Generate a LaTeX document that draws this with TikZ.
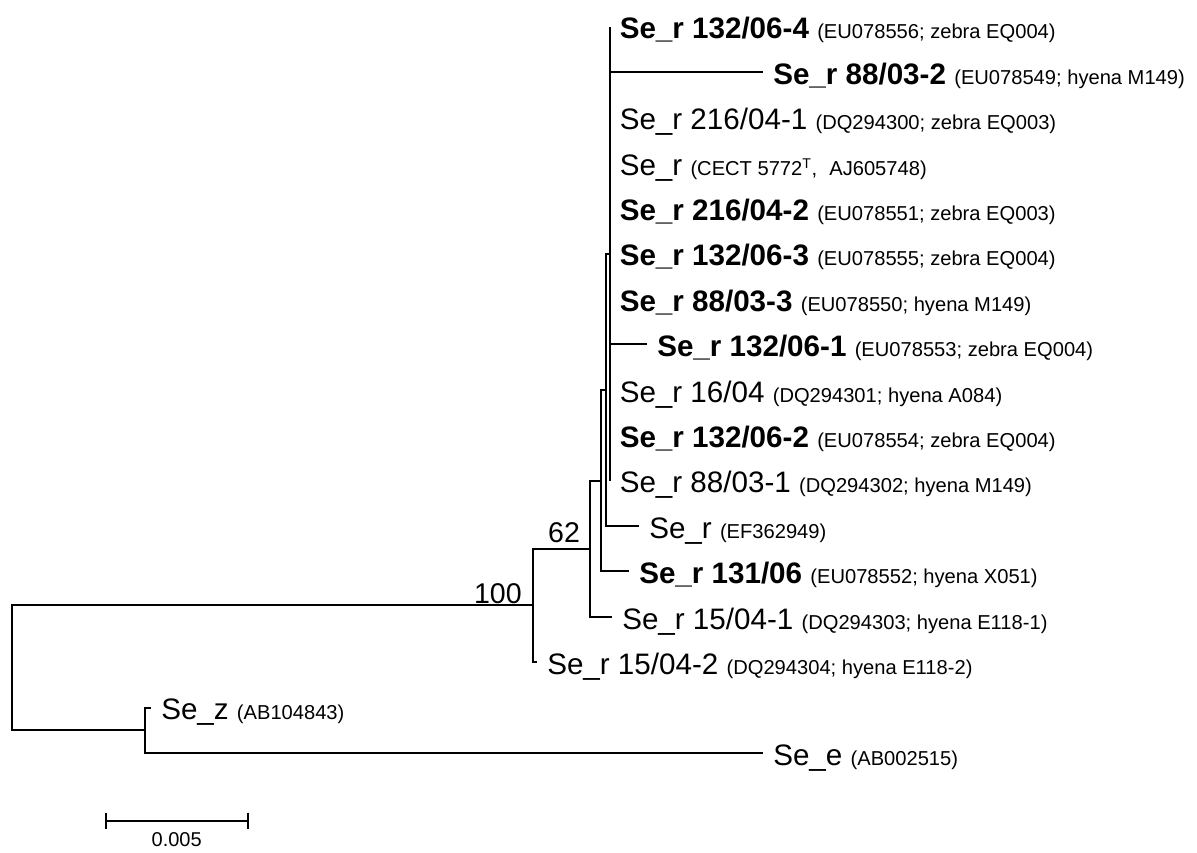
\documentclass[tikz,border=0pt]{standalone}
\usepackage{fontspec}
\setmainfont{Liberation Sans}
\usepackage{tikz}
\usetikzlibrary{positioning,calc}
\newcommand\accno[1]{{\fontsize{15.1}{17}\selectfont\mdseries #1}}
\tikzset{
  br/.style     = {draw=black, line width=1.5pt},
  leaf/.style   = {anchor=base west, inner sep=0pt, xshift=7.5pt, yshift=-9.2pt, font=\fontsize{22.2}{24}\selectfont},
  boot/.style   = {inner sep=0pt, font=\fontsize{21.4}{23}\selectfont},
  sbar/.style   = {draw=black, line width=1.6pt},
  sblbl/.style  = {inner sep=0pt, anchor=base, font=\fontsize{15}{17}\selectfont},
}
\begin{document}
\begin{tikzpicture}[x=0.75pt,y=-0.75pt]
  \useasboundingbox (0,0) rectangle (1197,853);

  % internal nodes
  \coordinate (root) at (12,667.9);
  \coordinate (nA) at (533,605.45);
  \coordinate (nB) at (590,548.7);
  \coordinate (nC) at (601,480.6);
  \coordinate (nD) at (606,389.8);
  \coordinate (nE) at (609.5,253.6);
  \coordinate (nZ) at (145,730.3);

  % leaf tips
  \coordinate (l1) at (609.5,26.6);
  \coordinate (l2) at (763,72.0);
  \coordinate (l3) at (609.5,117.4);
  \coordinate (l4) at (609.5,162.8);
  \coordinate (l5) at (609.5,208.2);
  \coordinate (l6) at (609.5,253.6);
  \coordinate (l7) at (609.5,299.0);
  \coordinate (l8) at (647,344.4);
  \coordinate (l9) at (609.5,389.8);
  \coordinate (l10) at (609.5,435.2);
  \coordinate (l11) at (609.5,480.6);
  \coordinate (l12) at (639,526.0);
  \coordinate (l13) at (629,571.4);
  \coordinate (l14) at (612,616.8);
  \coordinate (l15) at (537,662.2);
  \coordinate (l16) at (151,707.6);
  \coordinate (l17) at (763,753.0);

  % branches
  \draw[br] (root) |- (nA);
  \draw[br] (root) |- (nZ);
  \draw[br] (nA) |- (nB);
  \draw[br] (nA) |- (l15);
  \draw[br] (nB) |- (nC);
  \draw[br] (nB) |- (l14);
  \draw[br] (nC) |- (nD);
  \draw[br] (nC) |- (l13);
  \draw[br] (nD) |- (nE);
  \draw[br] (nD) |- (l12);
  \foreach \t in {1,...,11} {
    \draw[br] (nE) |- (l\t);
  }
  \draw[br] (nZ) |- (l16);
  \draw[br] (nZ) |- (l17);

  % taxa
  \node[leaf] (t1) at (l1) {\bfseries Se\_r 132/06-4 \accno{(EU078556; zebra EQ004)}};
  \node[leaf] (t2) at (l2) {\bfseries Se\_r 88/03-2 \accno{(EU078549; hyena M149)}};
  \node[leaf] (t3) at (l3) {Se\_r 216/04-1 \accno{(DQ294300; zebra EQ003)}};
  \node[leaf] (t4) at (l4) {Se\_r \accno{(CECT 5772\textsuperscript{T},\hspace{0.6em}AJ605748)}};
  \node[leaf] (t5) at (l5) {\bfseries Se\_r 216/04-2 \accno{(EU078551; zebra EQ003)}};
  \node[leaf] (t6) at (l6) {\bfseries Se\_r 132/06-3 \accno{(EU078555; zebra EQ004)}};
  \node[leaf] (t7) at (l7) {\bfseries Se\_r 88/03-3 \accno{(EU078550; hyena M149)}};
  \node[leaf] (t8) at (l8) {\bfseries Se\_r 132/06-1 \accno{(EU078553; zebra EQ004)}};
  \node[leaf] (t9) at (l9) {Se\_r 16/04 \accno{(DQ294301; hyena A084)}};
  \node[leaf] (t10) at (l10) {\bfseries Se\_r 132/06-2 \accno{(EU078554; zebra EQ004)}};
  \node[leaf] (t11) at (l11) {Se\_r 88/03-1 \accno{(DQ294302; hyena M149)}};
  \node[leaf] (t12) at (l12) {Se\_r \accno{(EF362949)}};
  \node[leaf] (t13) at (l13) {\bfseries Se\_r 131/06 \accno{(EU078552; hyena X051)}};
  \node[leaf] (t14) at (l14) {Se\_r 15/04-1 \accno{(DQ294303; hyena E118-1)}};
  \node[leaf] (t15) at (l15) {Se\_r 15/04-2 \accno{(DQ294304; hyena E118-2)}};
  \node[leaf] (t16) at (l16) {Se\_z \accno{(AB104843)}};
  \node[leaf] (t17) at (l17) {Se\_e \accno{(AB002515)}};

  % bootstrap values
  \node[boot, anchor=base east] (bs100) at (522,603) {100};
  \node[boot, anchor=base] (bs62) at (564,542) {62};

  % scale bar
  \coordinate (sbL) at (105.7,820.7);
  \coordinate (sbR) at (248.3,820.7);
  \draw[sbar] (sbL) -- (sbR);
  \draw[sbar] ([yshift=6pt]sbL) -- ([yshift=-6pt]sbL);
  \draw[sbar] ([yshift=6pt]sbR) -- ([yshift=-6pt]sbR);
  \node[sblbl] (sbtxt) at (176.7,846.7) {0.005};
\end{tikzpicture}
\end{document}
